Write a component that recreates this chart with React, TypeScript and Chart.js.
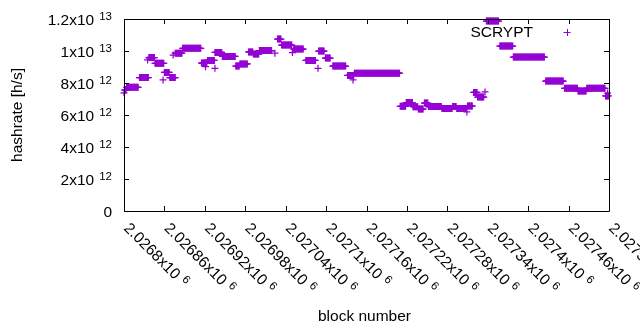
import React, { useEffect, useRef } from 'react';
import { Chart, registerables } from 'chart.js';

Chart.register(...registerables);

// ---- data (block numbers and hashrate in h/s) ----
// plateaus: blocks [segStart, segEnd) share a hashrate value
const segStart = [
  2026801, 2026804, 2026823, 2026837, 2026846, 2026860, 2026868, 2026876, 2026887, 2026915,
  2026924, 2026935, 2026946, 2026966, 2026972, 2026985, 2026992, 2027001, 2027028, 2027034,
  2027052, 2027070, 2027089, 2027099, 2027110, 2027132, 2027142, 2027210, 2027219, 2027229,
  2027237, 2027246, 2027252, 2027272, 2027288, 2027294, 2027310, 2027319, 2027325, 2027338,
  2027358, 2027378, 2027426, 2027454, 2027474, 2027487, 2027515,
];
const segEnd = [
  2026804, 2026822, 2026837, 2026846, 2026860, 2026868, 2026877, 2026887, 2026915, 2026924,
  2026935, 2026946, 2026966, 2026972, 2026984, 2026992, 2027001, 2027020, 2027034, 2027050,
  2027067, 2027085, 2027098, 2027107, 2027130, 2027142, 2027210, 2027219, 2027229, 2027237,
  2027245, 2027252, 2027272, 2027288, 2027294, 2027309, 2027318, 2027325, 2027335, 2027357,
  2027378, 2027425, 2027453, 2027474, 2027487, 2027515, 2027520,
];
const segRate = [
  7.56e12, 7.73e12, 8.34e12, 9.59e12, 9.23e12, 8.66e12, 8.34e12, 9.86e12, 1.017e13, 9.25e12,
  9.41e12, 9.91e12, 9.66e12, 9.06e12, 9.19e12, 9.94e12, 9.81e12, 1.003e13, 1.075e13, 1.0375e13,
  1.0125e13, 9.41e12, 1.0e13, 9.56e12, 9.06e12, 8.47e12, 8.61e12, 6.54e12, 6.78e12, 6.52e12,
  6.375e12, 6.75e12, 6.53e12, 6.41e12, 6.53e12, 6.41e12, 6.56e12, 7.41e12, 7.125e12, 1.1875e13,
  1.031e13, 9.625e12, 8.125e12, 7.67e12, 7.5e12, 7.67e12, 7.19e12,
];
// single blocks off their plateau
const loneBlock = [
  2026800, 2026835, 2026858, 2026873, 2026921, 2026935, 2027024, 2027050, 2027088, 2027140,
  2027309, 2027336, 2027518,
];
const loneRate = [
  7.39e12, 9.44e12, 8.19e12, 9.75e12, 9.02e12, 8.92e12, 9.86e12, 9.9e12, 8.92e12, 8.19e12,
  6.19e12, 7.44e12, 7.375e12,
];

const X_MIN = 2026800;
const X_MAX = 2027520;
const xTickValues = [
  2026800, 2026860, 2026920, 2026980, 2027040, 2027100, 2027160, 2027220, 2027280, 2027340,
  2027400, 2027460, 2027520,
];
const xTickText = [
  '2.0268x10', '2.02686x10', '2.02692x10', '2.02698x10', '2.02704x10', '2.0271x10', '2.02716x10',
  '2.02722x10', '2.02728x10', '2.02734x10', '2.0274x10', '2.02746x10', '2.02752x10',
];
const xTickExp = ['6', '6', '6', '6', '6', '6', '6', '6', '6', '6', '6', '6', '6'];
const yTickValues = [0, 2e12, 4e12, 6e12, 8e12, 1e13, 1.2e13];
const yTickText = ['0', '2x10', '4x10', '6x10', '8x10', '1x10', '1.2x10'];
const yTickExp = ['', '12', '12', '12', '12', '13', '13'];

const SERIES_NAME = 'SCRYPT';
const X_TITLE = 'block number';
const Y_TITLE = 'hashrate [h/s]';
const COLOR = '#9400d3';
const FONT = '"Liberation Sans", Arial, sans-serif';
const MAIN_PX = 15.5;
const EXP_PX = 11.5;

function buildPoints() {
  const pts: { x: number; y: number }[] = [];
  for (let i = 0; i < segStart.length; i++) {
    for (let b = segStart[i]; b < segEnd[i]; b++) pts.push({ x: b, y: segRate[i] });
  }
  for (let i = 0; i < loneBlock.length; i++) pts.push({ x: loneBlock[i], y: loneRate[i] });
  return pts;
}

const frame = {
  id: 'gnuplotFrame',
  afterDraw(chart: any) {
    const ctx: CanvasRenderingContext2D = chart.ctx;
    const a = chart.chartArea;
    const xs = chart.scales.x;
    const ys = chart.scales.y;
    const L = Math.round(a.left), R = Math.round(a.right), T = Math.round(a.top), B = Math.round(a.bottom);
    ctx.save();
    ctx.strokeStyle = '#000';
    ctx.lineWidth = 1;
    ctx.beginPath();
    ctx.rect(L + 0.5, T + 0.5, R - L, B - T);
    const tl = 5;
    xTickValues.forEach((v) => {
      const px = Math.round(xs.getPixelForValue(v)) + 0.5;
      ctx.moveTo(px, B); ctx.lineTo(px, B - tl);
      ctx.moveTo(px, T); ctx.lineTo(px, T + tl);
    });
    yTickValues.forEach((v) => {
      const py = Math.round(ys.getPixelForValue(v)) + 0.5;
      ctx.moveTo(L, py); ctx.lineTo(L + tl, py);
      ctx.moveTo(R, py); ctx.lineTo(R - tl, py);
    });
    ctx.stroke();

    ctx.fillStyle = '#000';
    ctx.textBaseline = 'alphabetic';
    // y tick labels
    const yRight = 112;
    yTickValues.forEach((v, i) => {
      const py = ys.getPixelForValue(v);
      ctx.font = `${MAIN_PX}px ${FONT}`;
      const mw = ctx.measureText(yTickText[i]).width;
      ctx.font = `${EXP_PX}px ${FONT}`;
      const ew = yTickExp[i] ? ctx.measureText(yTickExp[i]).width : 0;
      const gap = yTickExp[i] ? 5 : 0;
      const x0 = yRight - (mw + gap + ew);
      ctx.textAlign = 'left';
      ctx.font = `${MAIN_PX}px ${FONT}`;
      ctx.fillText(yTickText[i], x0, py + 5.5);
      if (yTickExp[i]) {
        ctx.font = `${EXP_PX}px ${FONT}`;
        ctx.fillText(yTickExp[i], x0 + mw + gap, py + 0.5);
      }
    });
    // x tick labels, rotated
    xTickValues.forEach((v, i) => {
      const px = xs.getPixelForValue(v);
      ctx.save();
      ctx.translate(px + 3, B + 14);
      ctx.rotate(Math.PI / 4);
      ctx.textAlign = 'left';
      ctx.font = `${MAIN_PX}px ${FONT}`;
      const mw = ctx.measureText(xTickText[i]).width;
      ctx.fillText(xTickText[i], 0, 5.5);
      ctx.font = `${EXP_PX}px ${FONT}`;
      ctx.fillText(xTickExp[i], mw + 5, 0.5);
      ctx.restore();
    });
    // axis titles
    ctx.font = `${MAIN_PX}px ${FONT}`;
    ctx.textAlign = 'center';
    ctx.fillText(X_TITLE, (L + R) / 2 - 2, 321);
    ctx.save();
    ctx.translate(22, (T + B) / 2);
    ctx.rotate(-Math.PI / 2);
    ctx.fillText(Y_TITLE, 0, 0);
    ctx.restore();
    // legend
    ctx.textAlign = 'right';
    ctx.fillText(SERIES_NAME, 533, 37);
    ctx.strokeStyle = COLOR;
    ctx.beginPath();
    ctx.moveTo(563.5, 32.5); ctx.lineTo(570.5, 32.5);
    ctx.moveTo(567.5, 29); ctx.lineTo(567.5, 36);
    ctx.stroke();
    ctx.restore();
  },
};

export default function App() {
  const ref = useRef<HTMLCanvasElement | null>(null);
  useEffect(() => {
    if (!ref.current) return;
    const chart = new Chart(ref.current, {
      type: 'scatter',
      data: {
        datasets: [
          {
            label: SERIES_NAME,
            data: buildPoints(),
            pointStyle: 'cross',
            pointRadius: 3.5,
            pointBorderWidth: 1.25,
            borderColor: COLOR,
            backgroundColor: COLOR,
            showLine: false,
            clip: false as any,
          },
        ],
      },
      options: {
        responsive: false,
        animation: false,
        devicePixelRatio: 1,
        events: [],
        layout: { padding: { left: 124, top: 19, right: 31, bottom: 119 } },
        scales: {
          x: { type: 'linear', min: X_MIN, max: X_MAX, display: false },
          y: { type: 'linear', min: 0, max: 1.2e13, display: false },
        },
        plugins: { legend: { display: false }, tooltip: { enabled: false } },
      },
      plugins: [frame],
    });
    return () => chart.destroy();
  }, []);
  return (
    <div style={{ position: 'absolute', left: 0, top: 0, width: 640, height: 330, background: '#fff' }}>
      <canvas ref={ref} width={640} height={330} style={{ display: 'block' }} />
    </div>
  );
}
